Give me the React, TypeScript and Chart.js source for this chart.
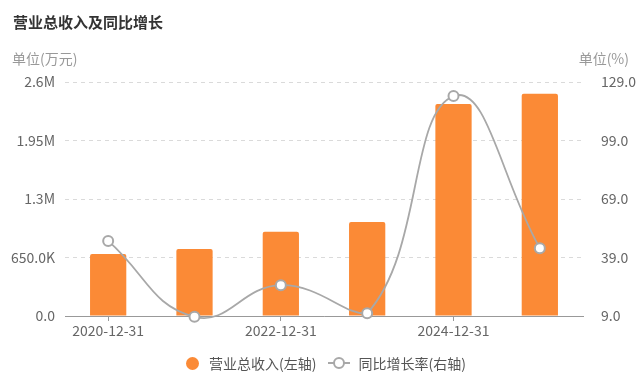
import React, { useEffect, useRef } from "react";
import { Chart, registerables } from "chart.js";

Chart.register(...registerables);

const categories = ["2020-12-31", "2021-12-31", "2022-12-31", "2023-12-31", "2024-12-31", "2025-12-31"];
const revenue = [690000, 745000, 935000, 1045000, 2355000, 2470000];
const growth = [47.5, 8.6, 24.8, 10.4, 121.8, 43.8];
const leftTicks = [0, 650000, 1300000, 1950000, 2600000];
const leftTickLabels = ["0.0", "650.0K", "1.3M", "1.95M", "2.6M"];
const rightTicks = [9, 39, 69, 99, 129];
const rightTickLabels = ["9.0", "39.0", "69.0", "99.0", "129.0"];

const ORANGE = "#FB8A36";
const LINE = "#A8A8A8";
const FONT = "'Noto Sans CJK SC', 'Noto Sans', sans-serif";

export default function App() {
  const ref = useRef<HTMLCanvasElement | null>(null);

  useEffect(() => {
    if (!ref.current) return;
    const chart = new Chart(ref.current, {
      data: {
        labels: categories,
        datasets: [
          {
            type: "line",
            label: "同比增长率(右轴)",
            data: growth,
            yAxisID: "y1",
            borderColor: LINE,
            borderWidth: 1.8,
            tension: 0.45,
            pointRadius: 5,
            pointBorderWidth: 2,
            pointBackgroundColor: "#ffffff",
            pointBorderColor: LINE,
            clip: false as any,
            order: 0,
          },
          {
            type: "bar",
            label: "营业总收入(左轴)",
            data: revenue,
            yAxisID: "y",
            backgroundColor: ORANGE,
            borderRadius: 2,
            borderSkipped: "bottom",
            barPercentage: 0.42,
            categoryPercentage: 1,
            order: 1,
          },
        ],
      } as any,
      options: {
        animation: false,
        responsive: false,
        maintainAspectRatio: false,
        layout: { padding: { top: 82, bottom: 0, left: 0, right: 0 } },
        plugins: { legend: { display: false }, tooltip: { enabled: false }, title: { display: false } },
        scales: {
          x: {
            grid: {
              display: true,
              drawOnChartArea: false,
              offset: false,
              tickLength: 5,
              tickColor: (ctx: any) => (ctx.index % 2 === 0 ? "#999" : "rgba(0,0,0,0)"),
            },
            border: { display: true, color: "#999", width: 1 },
            ticks: {
              autoSkip: false,
              maxRotation: 0,
              padding: 1,
              color: "#666",
              font: { size: 14, family: FONT },
              callback: (_v: any, i: number) => (i % 2 === 0 ? categories[i] : ""),
            },
            afterFit: (s: any) => {
              s.height = 67;
            },
          },
          y: {
            position: "left",
            min: 0,
            max: 2600000,
            afterBuildTicks: (s: any) => {
              s.ticks = leftTicks.map((v) => ({ value: v }));
            },
            ticks: {
              padding: 10,
              color: "#666",
              font: { size: 14, family: FONT },
              callback: (v: any) => leftTickLabels[leftTicks.indexOf(Number(v))],
            },
            grid: { color: "#DADADA", drawTicks: false, tickLength: 0, lineWidth: 1 },
            border: { display: false, dash: [4, 4] },
            afterFit: (s: any) => {
              s.width = 65;
            },
          },
          y1: {
            position: "right",
            min: 9,
            max: 129,
            afterBuildTicks: (s: any) => {
              s.ticks = rightTicks.map((v) => ({ value: v }));
            },
            ticks: {
              padding: 10,
              color: "#666",
              font: { size: 14, family: FONT },
              callback: (v: any) => rightTickLabels[rightTicks.indexOf(Number(v))],
            },
            grid: { display: false, drawOnChartArea: false },
            border: { display: false },
            afterFit: (s: any) => {
              s.width = 57;
            },
          },
        },
      } as any,
    });
    return () => chart.destroy();
  }, []);

  return (
    <div style={{ position: "absolute", left: 0, top: 0, width: 640, height: 383, background: "#fff", fontFamily: FONT }}>
      <canvas ref={ref} width={640} height={383} style={{ position: "absolute", left: 0, top: 0 }} />
      <div style={{ position: "absolute", left: 13, top: 12, fontSize: 15, fontWeight: "bold", color: "#333", lineHeight: "20px" }}>
        营业总收入及同比增长
      </div>
      <div style={{ position: "absolute", left: 12, top: 48, fontSize: 14, color: "#999", lineHeight: "20px" }}>单位(万元)</div>
      <div style={{ position: "absolute", right: 11, top: 48, fontSize: 14, color: "#999", lineHeight: "20px" }}>单位(%)</div>
      <div style={{ position: "absolute", left: 186, top: 353, height: 20, display: "flex", alignItems: "center", fontSize: 14, color: "#555" }}>
        <span style={{ width: 13, height: 13, borderRadius: "50%", background: ORANGE, display: "inline-block", marginRight: 10 }} />
        <span>营业总收入(左轴)</span>
        <span style={{ position: "relative", width: 22, height: 12, display: "inline-block", marginLeft: 12, marginRight: 8 }}>
          <span style={{ position: "absolute", left: 0, top: 5, width: 22, height: 2, background: LINE }} />
          <span style={{ position: "absolute", left: 5, top: 0, width: 8, height: 8, borderRadius: "50%", background: "#fff", border: `2px solid ${LINE}` }} />
        </span>
        <span>同比增长率(右轴)</span>
      </div>
    </div>
  );
}
